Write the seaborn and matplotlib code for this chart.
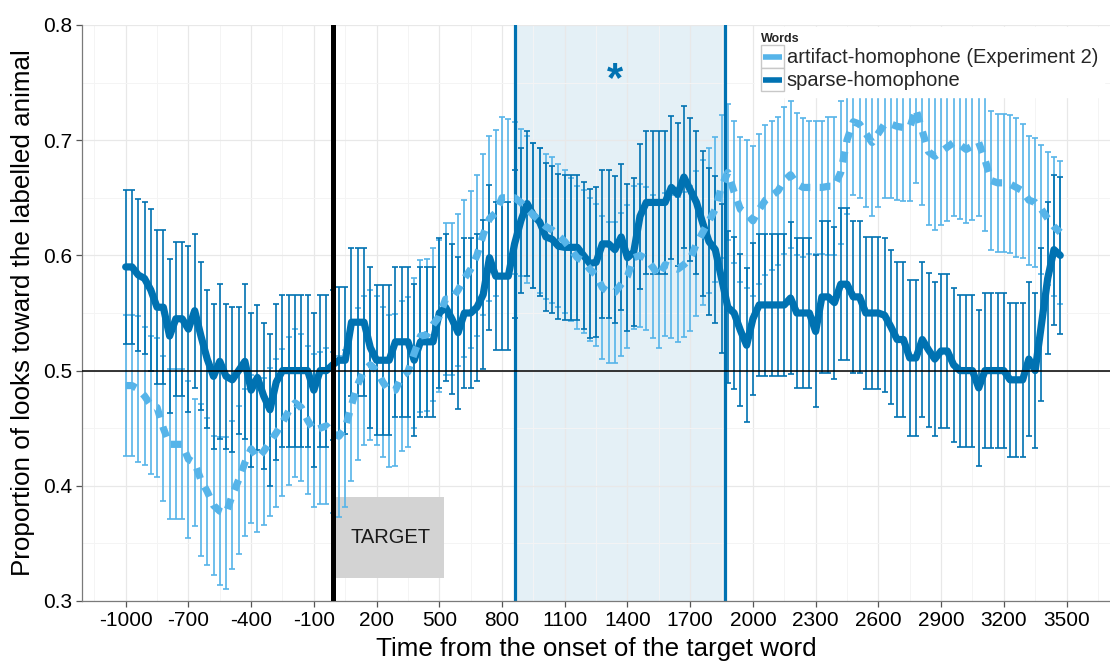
import matplotlib
matplotlib.use("Agg")
import matplotlib.pyplot as plt
from matplotlib.lines import Line2D
from matplotlib.patches import Rectangle
from matplotlib.legend_handler import HandlerBase
from matplotlib.ticker import FixedLocator
import pandas as pd
import seaborn as sns

# Time bins: 30 ms apart, starting 1000 ms before target-word onset
time_start = -1000
time_step = 30

# Mean proportion of looks toward the labelled animal, per time bin
sparse_mean = [
    0.590, 0.590, 0.583, 0.580, 0.570, 0.555, 0.555, 0.530, 0.545, 0.545,
    0.536, 0.552, 0.530, 0.510, 0.495, 0.508, 0.495, 0.492, 0.500, 0.508,
    0.483, 0.494, 0.478, 0.466, 0.490, 0.500, 0.500, 0.500, 0.500, 0.500,
    0.483, 0.500, 0.500, 0.505, 0.509, 0.509, 0.542, 0.542, 0.542, 0.520,
    0.509, 0.509, 0.509, 0.525, 0.525, 0.525, 0.509, 0.525, 0.525, 0.525,
    0.550, 0.555, 0.545, 0.533, 0.550, 0.550, 0.555, 0.566, 0.598, 0.582,
    0.582, 0.582, 0.610, 0.630, 0.645, 0.635, 0.629, 0.616, 0.614, 0.608,
    0.607, 0.607, 0.607, 0.600, 0.593, 0.594, 0.610, 0.610, 0.605, 0.616,
    0.598, 0.603, 0.634, 0.646, 0.646, 0.646, 0.646, 0.659, 0.653, 0.668,
    0.657, 0.646, 0.628, 0.612, 0.605, 0.580, 0.555, 0.550, 0.535, 0.522,
    0.545, 0.557, 0.557, 0.557, 0.557, 0.557, 0.563, 0.550, 0.550, 0.550,
    0.534, 0.564, 0.564, 0.559, 0.575, 0.575, 0.564, 0.564, 0.550, 0.550,
    0.550, 0.548, 0.538, 0.527, 0.527, 0.511, 0.511, 0.527, 0.518, 0.510,
    0.517, 0.517, 0.505, 0.500, 0.500, 0.500, 0.485, 0.500, 0.500, 0.500,
    0.500, 0.492, 0.492, 0.492, 0.510, 0.500, 0.540, 0.580, 0.605, 0.600,
]
sparse_se = [
    0.067, 0.067, 0.066, 0.066, 0.070, 0.067, 0.067, 0.067, 0.067, 0.067,
    0.072, 0.067, 0.064, 0.060, 0.063, 0.067, 0.063, 0.063, 0.055, 0.067,
    0.067, 0.063, 0.063, 0.066, 0.068, 0.066, 0.066, 0.066, 0.066, 0.066,
    0.067, 0.066, 0.066, 0.065, 0.064, 0.064, 0.064, 0.064, 0.064, 0.070,
    0.065, 0.065, 0.065, 0.065, 0.065, 0.065, 0.066, 0.065, 0.065, 0.065,
    0.065, 0.064, 0.065, 0.066, 0.065, 0.065, 0.064, 0.065, 0.063, 0.064,
    0.064, 0.064, 0.064, 0.063, 0.063, 0.063, 0.064, 0.064, 0.064, 0.063,
    0.063, 0.063, 0.063, 0.064, 0.065, 0.065, 0.064, 0.064, 0.064, 0.063,
    0.064, 0.064, 0.063, 0.062, 0.062, 0.062, 0.062, 0.062, 0.062, 0.062,
    0.062, 0.062, 0.063, 0.064, 0.064, 0.065, 0.066, 0.066, 0.066, 0.067,
    0.066, 0.062, 0.062, 0.062, 0.062, 0.062, 0.066, 0.065, 0.065, 0.065,
    0.066, 0.066, 0.066, 0.066, 0.066, 0.066, 0.066, 0.066, 0.066, 0.066,
    0.066, 0.067, 0.067, 0.067, 0.067, 0.068, 0.068, 0.067, 0.067, 0.067,
    0.067, 0.067, 0.067, 0.066, 0.066, 0.066, 0.068, 0.067, 0.067, 0.067,
    0.067, 0.067, 0.067, 0.067, 0.067, 0.067, 0.066, 0.066, 0.065, 0.068,
]
artifact_mean = [
    0.487, 0.487, 0.484, 0.478, 0.470, 0.468, 0.450, 0.436, 0.436, 0.436,
    0.423, 0.420, 0.405, 0.395, 0.383, 0.378, 0.376, 0.392, 0.405, 0.420,
    0.432, 0.424, 0.430, 0.438, 0.446, 0.455, 0.465, 0.472, 0.468, 0.457,
    0.448, 0.450, 0.452, 0.446, 0.443, 0.450, 0.470, 0.488, 0.500, 0.505,
    0.500, 0.490, 0.482, 0.483, 0.495, 0.499, 0.515, 0.530, 0.531, 0.540,
    0.547, 0.562, 0.562, 0.570, 0.580, 0.588, 0.600, 0.618, 0.632, 0.637,
    0.650, 0.650, 0.650, 0.646, 0.640, 0.635, 0.630, 0.625, 0.622, 0.617,
    0.612, 0.605, 0.598, 0.595, 0.588, 0.583, 0.572, 0.568, 0.568, 0.575,
    0.582, 0.598, 0.600, 0.597, 0.590, 0.582, 0.592, 0.590, 0.588, 0.592,
    0.597, 0.610, 0.620, 0.630, 0.640, 0.660, 0.672, 0.655, 0.640, 0.636,
    0.630, 0.640, 0.648, 0.652, 0.656, 0.665, 0.670, 0.662, 0.659, 0.659,
    0.659, 0.659, 0.660, 0.660, 0.672, 0.700, 0.716, 0.714, 0.706, 0.698,
    0.706, 0.714, 0.714, 0.712, 0.711, 0.711, 0.727, 0.708, 0.690, 0.686,
    0.690, 0.694, 0.698, 0.696, 0.692, 0.695, 0.698, 0.683, 0.665, 0.663,
    0.663, 0.662, 0.659, 0.656, 0.648, 0.646, 0.640, 0.632, 0.625, 0.620,
]
artifact_se = [
    0.061, 0.061, 0.063, 0.060, 0.060, 0.060, 0.063, 0.065, 0.065, 0.065,
    0.068, 0.055, 0.066, 0.064, 0.060, 0.064, 0.066, 0.064, 0.064, 0.064,
    0.064, 0.064, 0.064, 0.064, 0.064, 0.064, 0.064, 0.064, 0.064, 0.064,
    0.066, 0.066, 0.068, 0.070, 0.070, 0.068, 0.066, 0.066, 0.065, 0.065,
    0.065, 0.065, 0.066, 0.066, 0.065, 0.065, 0.065, 0.066, 0.066, 0.066,
    0.066, 0.066, 0.066, 0.066, 0.068, 0.068, 0.070, 0.070, 0.072, 0.072,
    0.070, 0.068, 0.066, 0.064, 0.064, 0.063, 0.063, 0.063, 0.063, 0.062,
    0.062, 0.062, 0.062, 0.062, 0.062, 0.062, 0.062, 0.061, 0.061, 0.062,
    0.062, 0.062, 0.062, 0.062, 0.062, 0.062, 0.062, 0.062, 0.063, 0.063,
    0.063, 0.063, 0.063, 0.063, 0.063, 0.062, 0.059, 0.062, 0.063, 0.064,
    0.065, 0.065, 0.065, 0.065, 0.064, 0.064, 0.064, 0.062, 0.060, 0.058,
    0.058, 0.058, 0.060, 0.060, 0.062, 0.064, 0.064, 0.064, 0.064, 0.064,
    0.064, 0.064, 0.064, 0.064, 0.064, 0.064, 0.064, 0.064, 0.064, 0.064,
    0.064, 0.064, 0.064, 0.064, 0.064, 0.064, 0.064, 0.062, 0.060, 0.060,
    0.060, 0.060, 0.060, 0.058, 0.056, 0.056, 0.056, 0.058, 0.060, 0.062,
]

word_labels = ["artifact-homophone (Experiment 2)", "sparse-homophone"]
word_colors = {word_labels[0]: "#56B4E9", word_labels[1]: "#0072B2"}

x_ticks = list(range(-1000, 3501, 300))
y_ticks = [0.3, 0.4, 0.5, 0.6, 0.7, 0.8]

onset_time = -8
window = (860, 1866)
target_box = (8, 524, 0.32, 0.39)

times = [time_start + time_step * i for i in range(len(sparse_mean))]
df = pd.DataFrame({
    "time": times * 2,
    "prop": artifact_mean + sparse_mean,
    "se": artifact_se + sparse_se,
    "words": [word_labels[0]] * len(times) + [word_labels[1]] * len(times),
})

sns.set_theme(style="whitegrid")
plt.rcParams["font.family"] = ["Liberation Sans", "DejaVu Sans"]

fig = plt.figure(figsize=(11.10, 6.63), dpi=100)
ax = fig.add_axes([82 / 1110, 62 / 663, 1 - 82 / 1110, (601 - 25) / 663])
ax.set_facecolor("white")

# highlighted analysis window
ax.axvspan(window[0], window[1], color="#0072B2", alpha=0.105, lw=0, zorder=0.5)

# error bars (mean +/- SE)
for w, zo in [(word_labels[0], 1.6), (word_labels[1], 1.7)]:
    sub = df[df["words"] == w]
    ax.errorbar(sub["time"], sub["prop"], yerr=sub["se"], fmt="none",
                ecolor=word_colors[w], elinewidth=1.2, capsize=1.9,
                capthick=1.2, zorder=zo)

# mean curves
sns.lineplot(data=df, x="time", y="prop", hue="words", style="words",
             hue_order=[word_labels[1], word_labels[0]],
             style_order=[word_labels[1], word_labels[0]],
             palette=word_colors,
             dashes={word_labels[1]: "", word_labels[0]: (1.5, 1.3)},
             lw=5.2, legend=False, ax=ax, zorder=3)
for ln in ax.lines:
    ln.set_solid_joinstyle("round")
    ln.set_dash_capstyle("butt")

# window edges, onset marker, chance level
for xv in window:
    ax.axvline(xv, color="#0072B2", lw=2.3, zorder=2.5)
ax.axvline(onset_time, color="black", lw=3.6, zorder=4)
ax.axhline(0.5, color="black", lw=1.1, zorder=4)

# target label box
tx0, tx1, ty0, ty1 = target_box
ax.add_patch(Rectangle((tx0, ty0), tx1 - tx0, ty1 - ty0, facecolor="#d3d3d3",
                       edgecolor="none", zorder=1.2))
ax.text((tx0 + tx1) / 2, (ty0 + ty1) / 2, "TARGET", ha="center", va="center",
        fontsize=14.5, color="#1a1a1a", zorder=1.3)

ax.text(1338, 0.752, "*", ha="center", va="center", fontsize=30,
        fontweight="bold", color="#0072B2", zorder=5)

# axes, grid, ticks
ax.set_xlim(-1209, 3708)
ax.set_ylim(0.3, 0.8)
ax.xaxis.set_major_locator(FixedLocator(x_ticks))
ax.xaxis.set_minor_locator(FixedLocator([t + 150 for t in [-1300] + x_ticks]))
ax.yaxis.set_major_locator(FixedLocator(y_ticks))
ax.yaxis.set_minor_locator(FixedLocator([v + 0.05 for v in y_ticks[:-1]]))
ax.set_xticklabels([str(t) for t in x_ticks])
ax.set_yticklabels([f"{v:.1f}" for v in y_ticks])
ax.grid(which="major", color="#e8e8e8", lw=0.9)
ax.grid(which="minor", color="#f4f4f4", lw=0.7)
ax.tick_params(axis="both", which="major", length=4, width=0.9,
               color="#555555", labelsize=15, labelcolor="black", pad=3,
               bottom=True, left=True)
ax.tick_params(axis="both", which="minor", length=0)
for side in ["top", "right"]:
    ax.spines[side].set_visible(False)
for side in ["left", "bottom"]:
    ax.spines[side].set_visible(True)
    ax.spines[side].set_color("#7a7a7a")
    ax.spines[side].set_linewidth(0.9)

ax.set_xlabel("Time from the onset of the target word", fontsize=18.7,
              color="black", labelpad=5)
ax.set_ylabel("Proportion of looks toward the labelled animal", fontsize=18.7,
              color="black", labelpad=6)


class KeyHandler(HandlerBase):
    def create_artists(self, legend, orig_handle, xdescent, ydescent, width,
                       height, fontsize, trans):
        box = Rectangle((-xdescent, -ydescent), width, height,
                        facecolor="white", edgecolor="#c8c8c8", lw=1.0,
                        transform=trans)
        y = -ydescent + height / 2
        line = Line2D([-xdescent + width * 0.1, -xdescent + width * 0.9],
                      [y, y], color=orig_handle.get_color(), lw=4,
                      solid_capstyle="butt", transform=trans)
        return [box, line]


handles = [Line2D([], [], color=word_colors[w]) for w in word_labels]
leg = ax.legend(handles, word_labels, title="Words", loc="upper left",
                bbox_to_anchor=(755 / 1110, 1 - 27 / 663),
                bbox_transform=fig.transFigure,
                handler_map={Line2D: KeyHandler()},
                fontsize=14.5, title_fontproperties={"weight": "bold", "size": 9},
                frameon=True, fancybox=False, framealpha=1, facecolor="white",
                edgecolor="white", borderpad=0.3, labelspacing=0.0,
                handlelength=1.15, handleheight=1.38, handletextpad=0.12,
                borderaxespad=0, alignment="left")
leg.set_zorder(10)

fig.savefig("out.png", dpi=100)
